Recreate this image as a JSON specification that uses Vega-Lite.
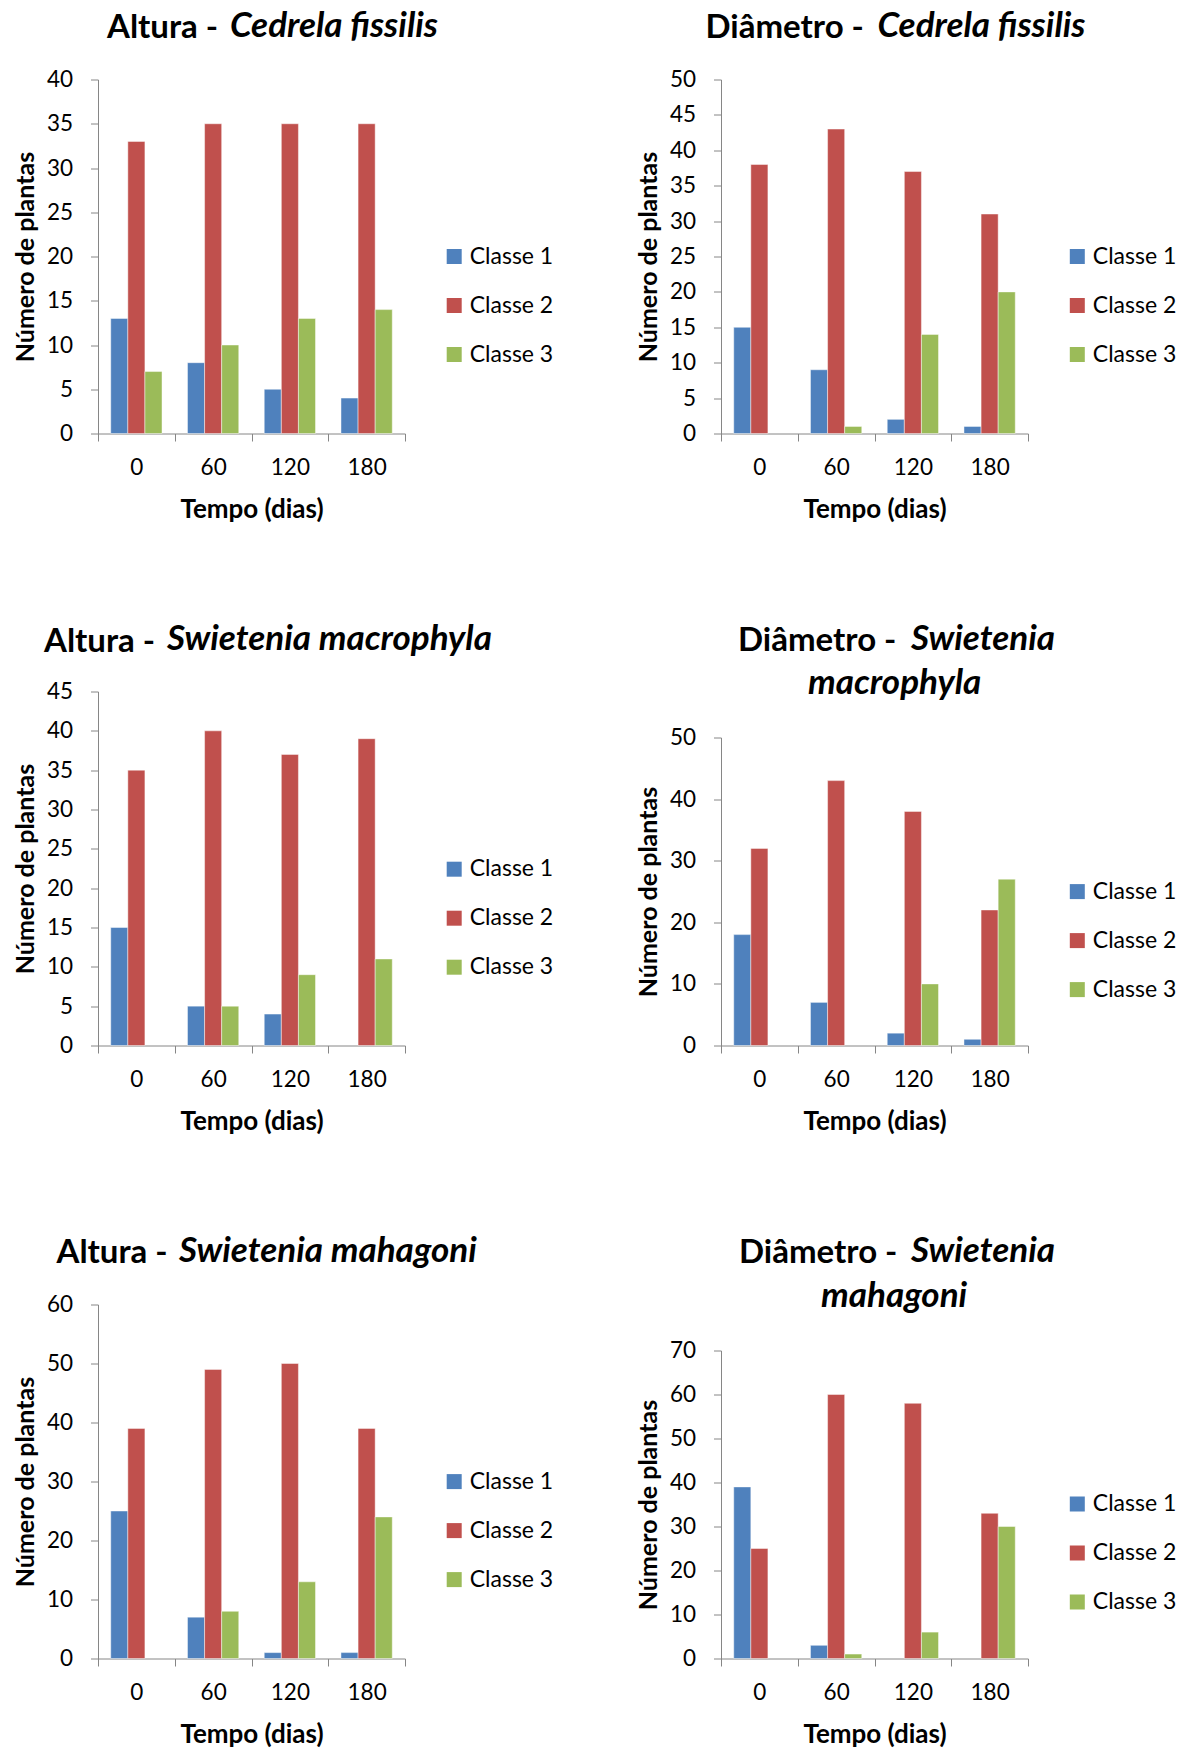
{
  "$schema": "https://vega.github.io/schema/vega-lite/v6.json",
  "background": "#ffffff",
  "padding": {"left": 13, "top": 8.5, "right": 5, "bottom": 5},
  "datasets": {
    "plantas": [
      {"painel": "P1", "tempo": "0", "classe": "Classe 1", "n": 13},
      {"painel": "P1", "tempo": "0", "classe": "Classe 2", "n": 33},
      {"painel": "P1", "tempo": "0", "classe": "Classe 3", "n": 7},
      {"painel": "P1", "tempo": "60", "classe": "Classe 1", "n": 8},
      {"painel": "P1", "tempo": "60", "classe": "Classe 2", "n": 35},
      {"painel": "P1", "tempo": "60", "classe": "Classe 3", "n": 10},
      {"painel": "P1", "tempo": "120", "classe": "Classe 1", "n": 5},
      {"painel": "P1", "tempo": "120", "classe": "Classe 2", "n": 35},
      {"painel": "P1", "tempo": "120", "classe": "Classe 3", "n": 13},
      {"painel": "P1", "tempo": "180", "classe": "Classe 1", "n": 4},
      {"painel": "P1", "tempo": "180", "classe": "Classe 2", "n": 35},
      {"painel": "P1", "tempo": "180", "classe": "Classe 3", "n": 14},
      {"painel": "P2", "tempo": "0", "classe": "Classe 1", "n": 15},
      {"painel": "P2", "tempo": "0", "classe": "Classe 2", "n": 38},
      {"painel": "P2", "tempo": "0", "classe": "Classe 3", "n": 0},
      {"painel": "P2", "tempo": "60", "classe": "Classe 1", "n": 9},
      {"painel": "P2", "tempo": "60", "classe": "Classe 2", "n": 43},
      {"painel": "P2", "tempo": "60", "classe": "Classe 3", "n": 1},
      {"painel": "P2", "tempo": "120", "classe": "Classe 1", "n": 2},
      {"painel": "P2", "tempo": "120", "classe": "Classe 2", "n": 37},
      {"painel": "P2", "tempo": "120", "classe": "Classe 3", "n": 14},
      {"painel": "P2", "tempo": "180", "classe": "Classe 1", "n": 1},
      {"painel": "P2", "tempo": "180", "classe": "Classe 2", "n": 31},
      {"painel": "P2", "tempo": "180", "classe": "Classe 3", "n": 20},
      {"painel": "P3", "tempo": "0", "classe": "Classe 1", "n": 15},
      {"painel": "P3", "tempo": "0", "classe": "Classe 2", "n": 35},
      {"painel": "P3", "tempo": "0", "classe": "Classe 3", "n": 0},
      {"painel": "P3", "tempo": "60", "classe": "Classe 1", "n": 5},
      {"painel": "P3", "tempo": "60", "classe": "Classe 2", "n": 40},
      {"painel": "P3", "tempo": "60", "classe": "Classe 3", "n": 5},
      {"painel": "P3", "tempo": "120", "classe": "Classe 1", "n": 4},
      {"painel": "P3", "tempo": "120", "classe": "Classe 2", "n": 37},
      {"painel": "P3", "tempo": "120", "classe": "Classe 3", "n": 9},
      {"painel": "P3", "tempo": "180", "classe": "Classe 1", "n": 0},
      {"painel": "P3", "tempo": "180", "classe": "Classe 2", "n": 39},
      {"painel": "P3", "tempo": "180", "classe": "Classe 3", "n": 11},
      {"painel": "P4", "tempo": "0", "classe": "Classe 1", "n": 18},
      {"painel": "P4", "tempo": "0", "classe": "Classe 2", "n": 32},
      {"painel": "P4", "tempo": "0", "classe": "Classe 3", "n": 0},
      {"painel": "P4", "tempo": "60", "classe": "Classe 1", "n": 7},
      {"painel": "P4", "tempo": "60", "classe": "Classe 2", "n": 43},
      {"painel": "P4", "tempo": "60", "classe": "Classe 3", "n": 0},
      {"painel": "P4", "tempo": "120", "classe": "Classe 1", "n": 2},
      {"painel": "P4", "tempo": "120", "classe": "Classe 2", "n": 38},
      {"painel": "P4", "tempo": "120", "classe": "Classe 3", "n": 10},
      {"painel": "P4", "tempo": "180", "classe": "Classe 1", "n": 1},
      {"painel": "P4", "tempo": "180", "classe": "Classe 2", "n": 22},
      {"painel": "P4", "tempo": "180", "classe": "Classe 3", "n": 27},
      {"painel": "P5", "tempo": "0", "classe": "Classe 1", "n": 25},
      {"painel": "P5", "tempo": "0", "classe": "Classe 2", "n": 39},
      {"painel": "P5", "tempo": "0", "classe": "Classe 3", "n": 0},
      {"painel": "P5", "tempo": "60", "classe": "Classe 1", "n": 7},
      {"painel": "P5", "tempo": "60", "classe": "Classe 2", "n": 49},
      {"painel": "P5", "tempo": "60", "classe": "Classe 3", "n": 8},
      {"painel": "P5", "tempo": "120", "classe": "Classe 1", "n": 1},
      {"painel": "P5", "tempo": "120", "classe": "Classe 2", "n": 50},
      {"painel": "P5", "tempo": "120", "classe": "Classe 3", "n": 13},
      {"painel": "P5", "tempo": "180", "classe": "Classe 1", "n": 1},
      {"painel": "P5", "tempo": "180", "classe": "Classe 2", "n": 39},
      {"painel": "P5", "tempo": "180", "classe": "Classe 3", "n": 24},
      {"painel": "P6", "tempo": "0", "classe": "Classe 1", "n": 39},
      {"painel": "P6", "tempo": "0", "classe": "Classe 2", "n": 25},
      {"painel": "P6", "tempo": "0", "classe": "Classe 3", "n": 0},
      {"painel": "P6", "tempo": "60", "classe": "Classe 1", "n": 3},
      {"painel": "P6", "tempo": "60", "classe": "Classe 2", "n": 60},
      {"painel": "P6", "tempo": "60", "classe": "Classe 3", "n": 1},
      {"painel": "P6", "tempo": "120", "classe": "Classe 1", "n": 0},
      {"painel": "P6", "tempo": "120", "classe": "Classe 2", "n": 58},
      {"painel": "P6", "tempo": "120", "classe": "Classe 3", "n": 6},
      {"painel": "P6", "tempo": "180", "classe": "Classe 1", "n": 0},
      {"painel": "P6", "tempo": "180", "classe": "Classe 2", "n": 33},
      {"painel": "P6", "tempo": "180", "classe": "Classe 3", "n": 30}
    ]
  },
  "resolve": {"scale": {"color": "independent"}, "legend": {"color": "independent"}},
  "spacing": 99,
  "vconcat": [
    {
      "resolve": {"scale": {"color": "independent"}, "legend": {"color": "independent"}},
      "spacing": 82,
      "hconcat": [
        {
          "title": {"text": "Altura - ", "dx": 9, "offset": -36.6},
          "resolve": {"scale": {"color": "independent"}, "legend": {"color": "independent"}},
          "vconcat": [
            {
              "width": 307, "height": 354,
              "title": {"text": "Cedrela fissilis", "fontStyle": "italic", "fontSize": 35, "dx": 132, "offset": 25},
              "data": {"name": "plantas"},
              "transform": [{"filter": "datum.painel === 'P1'"}],
              "mark": {"type": "bar", "stroke": "#ffffff", "strokeWidth": 1},
              "encoding": {
                "x": {"field": "tempo", "type": "nominal", "sort": ["0", "60", "120", "180"], "scale": {"paddingInner": 0, "paddingOuter": 0}, "axis": {"title": "Tempo (dias)"}},
                "xOffset": {"field": "classe", "type": "nominal", "scale": {"paddingInner": 0, "paddingOuter": 0.745}},
                "y": {"field": "n", "type": "quantitative", "scale": {"domain": [0, 40], "nice": false}, "axis": {"title": "Número de plantas", "values": [0, 5, 10, 15, 20, 25, 30, 35, 40]}},
                "color": {"field": "classe", "type": "nominal", "scale": {"domain": ["Classe 1", "Classe 2", "Classe 3"], "range": ["#4F81BD", "#C0504D", "#9BBB59"]}, "legend": {"orient": "none", "legendX": 344.7, "legendY": 165.5, "title": null}},
                "strokeOpacity": {"condition": {"test": "datum.n > 0", "value": 0.45}, "value": 0}
              }
            }
          ]
        },
        {
          "title": {"text": "Diâmetro - ", "dx": -15.5, "offset": -36.6},
          "resolve": {"scale": {"color": "independent"}, "legend": {"color": "independent"}},
          "vconcat": [
            {
              "width": 307, "height": 354,
              "title": {"text": "Cedrela fissilis", "fontStyle": "italic", "fontSize": 35, "dx": 156.5, "offset": 25},
              "data": {"name": "plantas"},
              "transform": [{"filter": "datum.painel === 'P2'"}],
              "mark": {"type": "bar", "stroke": "#ffffff", "strokeWidth": 1},
              "encoding": {
                "x": {"field": "tempo", "type": "nominal", "sort": ["0", "60", "120", "180"], "scale": {"paddingInner": 0, "paddingOuter": 0}, "axis": {"title": "Tempo (dias)"}},
                "xOffset": {"field": "classe", "type": "nominal", "scale": {"paddingInner": 0, "paddingOuter": 0.745}},
                "y": {"field": "n", "type": "quantitative", "scale": {"domain": [0, 50], "nice": false}, "axis": {"title": "Número de plantas", "values": [0, 5, 10, 15, 20, 25, 30, 35, 40, 45, 50]}},
                "color": {"field": "classe", "type": "nominal", "scale": {"domain": ["Classe 1", "Classe 2", "Classe 3"], "range": ["#4F81BD", "#C0504D", "#9BBB59"]}, "legend": {"orient": "none", "legendX": 344.8, "legendY": 165.5, "title": null}},
                "strokeOpacity": {"condition": {"test": "datum.n > 0", "value": 0.45}, "value": 0}
              }
            }
          ]
        }
      ]
    },
    {
      "resolve": {"scale": {"color": "independent"}, "legend": {"color": "independent"}},
      "spacing": 99,
      "vconcat": [
        {
          "resolve": {"scale": {"color": "independent"}, "legend": {"color": "independent"}},
          "spacing": 82,
          "hconcat": [
            {
              "title": {"text": "Altura - ", "dx": -54, "offset": -36.6},
              "resolve": {"scale": {"color": "independent"}, "legend": {"color": "independent"}},
              "vconcat": [
                {
                  "width": 307, "height": 354,
                  "title": {"text": "Swietenia macrophyla", "fontStyle": "italic", "fontSize": 35, "dx": 69, "offset": 23.5},
                  "data": {"name": "plantas"},
                  "transform": [{"filter": "datum.painel === 'P3'"}],
                  "mark": {"type": "bar", "stroke": "#ffffff", "strokeWidth": 1},
                  "encoding": {
                    "x": {"field": "tempo", "type": "nominal", "sort": ["0", "60", "120", "180"], "scale": {"paddingInner": 0, "paddingOuter": 0}, "axis": {"title": "Tempo (dias)"}},
                    "xOffset": {"field": "classe", "type": "nominal", "scale": {"paddingInner": 0, "paddingOuter": 0.745}},
                    "y": {"field": "n", "type": "quantitative", "scale": {"domain": [0, 45], "nice": false}, "axis": {"title": "Número de plantas", "values": [0, 5, 10, 15, 20, 25, 30, 35, 40, 45]}},
                    "color": {"field": "classe", "type": "nominal", "scale": {"domain": ["Classe 1", "Classe 2", "Classe 3"], "range": ["#4F81BD", "#C0504D", "#9BBB59"]}, "legend": {"orient": "none", "legendX": 344.7, "legendY": 166.2, "title": null}},
                    "strokeOpacity": {"condition": {"test": "datum.n > 0", "value": 0.45}, "value": 0}
                  }
                }
              ]
            },
            {
              "title": {"text": "Diâmetro - ", "dx": 17, "offset": -36.6},
              "resolve": {"scale": {"color": "independent"}, "legend": {"color": "independent"}},
              "vconcat": [
                {
                  "title": {"text": "Swietenia", "fontStyle": "italic", "fontSize": 35, "dx": 190, "offset": 9.5},
                  "resolve": {"scale": {"color": "independent"}, "legend": {"color": "independent"}},
                  "vconcat": [
                    {
                      "width": 307, "height": 354,
                      "title": {"text": "macrophyla", "fontStyle": "italic", "fontSize": 35, "dx": 87, "offset": -9.8},
                      "data": {"name": "plantas"},
                      "transform": [{"filter": "datum.painel === 'P4'"}],
                      "mark": {"type": "bar", "stroke": "#ffffff", "strokeWidth": 1},
                      "encoding": {
                        "x": {"field": "tempo", "type": "nominal", "sort": ["0", "60", "120", "180"], "scale": {"paddingInner": 0, "paddingOuter": 0}, "axis": {"title": "Tempo (dias)"}},
                        "xOffset": {"field": "classe", "type": "nominal", "scale": {"paddingInner": 0, "paddingOuter": 0.745}},
                        "y": {"field": "n", "type": "quantitative", "scale": {"domain": [0, 50], "nice": false, "range": [354, 46]}, "axis": {"title": "Número de plantas", "values": [0, 10, 20, 30, 40, 50]}},
                        "color": {"field": "classe", "type": "nominal", "scale": {"domain": ["Classe 1", "Classe 2", "Classe 3"], "range": ["#4F81BD", "#C0504D", "#9BBB59"]}, "legend": {"orient": "none", "legendX": 344.8, "legendY": 188.6, "title": null}},
                        "strokeOpacity": {"condition": {"test": "datum.n > 0", "value": 0.45}, "value": 0}
                      }
                    }
                  ]
                }
              ]
            }
          ]
        },
        {
          "resolve": {"scale": {"color": "independent"}, "legend": {"color": "independent"}},
          "spacing": 82,
          "hconcat": [
            {
              "title": {"text": "Altura - ", "dx": -41.5, "offset": -36.6},
              "resolve": {"scale": {"color": "independent"}, "legend": {"color": "independent"}},
              "vconcat": [
                {
                  "width": 307, "height": 354,
                  "title": {"text": "Swietenia mahagoni", "fontStyle": "italic", "fontSize": 35, "dx": 81, "offset": 25},
                  "data": {"name": "plantas"},
                  "transform": [{"filter": "datum.painel === 'P5'"}],
                  "mark": {"type": "bar", "stroke": "#ffffff", "strokeWidth": 1},
                  "encoding": {
                    "x": {"field": "tempo", "type": "nominal", "sort": ["0", "60", "120", "180"], "scale": {"paddingInner": 0, "paddingOuter": 0}, "axis": {"title": "Tempo (dias)"}},
                    "xOffset": {"field": "classe", "type": "nominal", "scale": {"paddingInner": 0, "paddingOuter": 0.745}},
                    "y": {"field": "n", "type": "quantitative", "scale": {"domain": [0, 60], "nice": false}, "axis": {"title": "Número de plantas", "values": [0, 10, 20, 30, 40, 50, 60]}},
                    "color": {"field": "classe", "type": "nominal", "scale": {"domain": ["Classe 1", "Classe 2", "Classe 3"], "range": ["#4F81BD", "#C0504D", "#9BBB59"]}, "legend": {"orient": "none", "legendX": 344.7, "legendY": 165.6, "title": null}},
                    "strokeOpacity": {"condition": {"test": "datum.n > 0", "value": 0.45}, "value": 0}
                  }
                }
              ]
            },
            {
              "title": {"text": "Diâmetro - ", "dx": 18, "offset": -36.6},
              "resolve": {"scale": {"color": "independent"}, "legend": {"color": "independent"}},
              "vconcat": [
                {
                  "title": {"text": "Swietenia", "fontStyle": "italic", "fontSize": 35, "dx": 190, "offset": 10.5},
                  "resolve": {"scale": {"color": "independent"}, "legend": {"color": "independent"}},
                  "vconcat": [
                    {
                      "width": 307, "height": 354,
                      "title": {"text": "mahagoni", "fontStyle": "italic", "fontSize": 35, "dx": 100, "offset": -9.5},
                      "data": {"name": "plantas"},
                      "transform": [{"filter": "datum.painel === 'P6'"}],
                      "mark": {"type": "bar", "stroke": "#ffffff", "strokeWidth": 1},
                      "encoding": {
                        "x": {"field": "tempo", "type": "nominal", "sort": ["0", "60", "120", "180"], "scale": {"paddingInner": 0, "paddingOuter": 0}, "axis": {"title": "Tempo (dias)"}},
                        "xOffset": {"field": "classe", "type": "nominal", "scale": {"paddingInner": 0, "paddingOuter": 0.745}},
                        "y": {"field": "n", "type": "quantitative", "scale": {"domain": [0, 70], "nice": false, "range": [354, 46]}, "axis": {"title": "Número de plantas", "values": [0, 10, 20, 30, 40, 50, 60, 70]}},
                        "color": {"field": "classe", "type": "nominal", "scale": {"domain": ["Classe 1", "Classe 2", "Classe 3"], "range": ["#4F81BD", "#C0504D", "#9BBB59"]}, "legend": {"orient": "none", "legendX": 344.8, "legendY": 188, "title": null}},
                        "strokeOpacity": {"condition": {"test": "datum.n > 0", "value": 0.45}, "value": 0}
                      }
                    }
                  ]
                }
              ]
            }
          ]
        }
      ]
    }
  ],
  "config": {
    "view": {"stroke": null},
    "font": "Lato",
    "title": {"font": "Lato", "fontSize": 33, "fontWeight": "bold", "color": "#000000", "anchor": "start", "frame": "group"},
    "axis": {"domainColor": "#868686", "tickColor": "#868686", "tickSize": 7.5, "labelFont": "Lato", "labelFontSize": 22.5, "labelColor": "#000000", "titleFont": "Lato", "titleFontWeight": "bold", "titleColor": "#000000", "grid": false},
    "axisX": {"labelAngle": 0, "labelPadding": 15, "titlePadding": 17.5, "tickBand": "extent", "titleFontSize": 26},
    "axisY": {"labelPadding": 18, "titlePadding": 8, "titleFontSize": 25},
    "legend": {"symbolType": "square", "symbolSize": 225, "symbolStrokeWidth": 0, "labelFont": "Lato", "labelFontSize": 23, "labelColor": "#000000", "rowPadding": 25, "labelOffset": 4}
  }
}
